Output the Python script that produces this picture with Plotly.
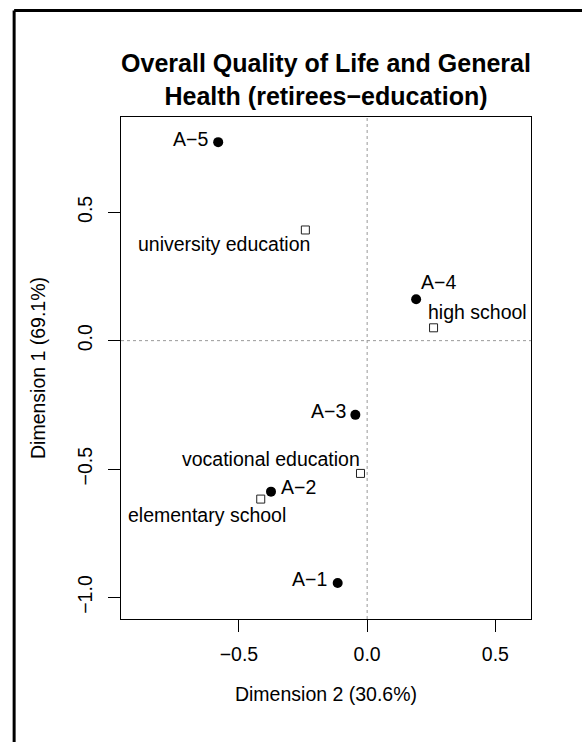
import plotly.graph_objects as go

# Row points (answer categories) and column points (education levels)
row_labels = ["A−1", "A−2", "A−3", "A−4", "A−5"]
row_dim2 = [-0.115, -0.375, -0.046, 0.191, -0.581]
row_dim1 = [-0.944, -0.588, -0.289, 0.161, 0.773]

col_labels = ["elementary school", "vocational education", "high school", "university education"]
col_dim2 = [-0.415, -0.026, 0.259, -0.241]
col_dim1 = [-0.617, -0.517, 0.050, 0.431]

x_ticks = [-0.5, 0.0, 0.5]
y_ticks = [-1.0, -0.5, 0.0, 0.5]

W, H = 582, 742
M_L, M_R, M_T, M_B = 120.5, 51, 117, 123
FONT = "Liberation Sans, Arial, Helvetica, sans-serif"
TXT = 19.5

# label placement: (xanchor, xshift, yshift) in pixels relative to the point
row_offsets = {
    "A−1": ("right", -9, 4),
    "A−2": ("left", 7.5, 4.5),
    "A−3": ("right", -7.5, 3.5),
    "A−4": ("left", 3, 17),
    "A−5": ("right", -8.5, 3),
}
col_offsets = {
    "elementary school": ("right", 27.5, -15.5),
    "vocational education": ("right", 1.5, 14.5),
    "high school": ("left", -7.5, 15.5),
    "university education": ("right", 7, -14.5),
}

fig = go.Figure()
fig.add_trace(go.Scatter(
    x=row_dim2, y=row_dim1, mode="markers",
    marker=dict(symbol="circle", size=10, color="black"),
    hoverinfo="skip", showlegend=False,
))
fig.add_trace(go.Scatter(
    x=col_dim2, y=col_dim1, mode="markers",
    marker=dict(symbol="square-open", size=8, color="#222222", line=dict(width=1)),
    hoverinfo="skip", showlegend=False,
))

for lab, x, y in zip(row_labels, row_dim2, row_dim1):
    anc, dx, dy = row_offsets[lab]
    fig.add_annotation(x=x, y=y, text=lab, showarrow=False, xanchor=anc,
                       yanchor="middle", xshift=dx, yshift=dy,
                       font=dict(family=FONT, size=TXT, color="black"))
for lab, x, y in zip(col_labels, col_dim2, col_dim1):
    anc, dx, dy = col_offsets[lab]
    fig.add_annotation(x=x, y=y, text=lab, showarrow=False, xanchor=anc,
                       yanchor="middle", xshift=dx, yshift=dy,
                       font=dict(family=FONT, size=TXT, color="black"))

# dotted reference lines through the origin
fig.add_hline(y=0, line=dict(color="#999999", width=1, dash="dot"))
fig.add_vline(x=0, line=dict(color="#999999", width=1, dash="dot"))

# outer frame (top and left edges)
pw = W - M_L - M_R
ph = H - M_T - M_B
def px_to_paper_x(px):
    return (px - M_L) / pw
def px_to_paper_y(py):
    return (H - M_B - py) / ph
fx = px_to_paper_x(13.5)
fy = px_to_paper_y(10.5)
fig.add_shape(type="line", xref="paper", yref="paper",
              x0=fx, x1=fx, y0=px_to_paper_y(H + 5), y1=fy,
              line=dict(color="black", width=3))
fig.add_shape(type="line", xref="paper", yref="paper",
              x0=fx, x1=px_to_paper_x(W + 5), y0=fy, y1=fy,
              line=dict(color="black", width=3))

axis_common = dict(
    showgrid=False, zeroline=False, showline=True, linecolor="black",
    linewidth=1, mirror=True, ticks="outside", ticklen=12, tickwidth=1,
    tickcolor="black", tickfont=dict(family=FONT, size=TXT, color="black"),
)
fig.update_xaxes(range=[-0.960, 0.639], tickvals=x_ticks,
                 ticktext=["−0.5", "0.0", "0.5"], ticklabelstandoff=6,
                 title=dict(text="Dimension 2 (30.6%)", standoff=22,
                            font=dict(family=FONT, size=TXT, color="black")),
                 **axis_common)
fig.update_yaxes(range=[-1.084, 0.871], tickvals=y_ticks,
                 ticktext=["−1.0", "−0.5", "0.0", "0.5"], tickangle=-90,
                 ticklabelstandoff=8,
                 title=dict(text="Dimension 1 (69.1%)", standoff=23,
                            font=dict(family=FONT, size=TXT, color="black")),
                 **axis_common)

fig.update_layout(
    width=W, height=H, autosize=False,
    margin=dict(l=M_L, r=M_R, t=M_T, b=M_B),
    paper_bgcolor="white", plot_bgcolor="white",
    title=dict(text="<b>Overall Quality of Life and General<br>Health (retirees−education)</b>",
               x=0.5, xref="paper", xanchor="center",
               y=1 - 72 / H, yref="container", yanchor="middle",
               font=dict(family=FONT, size=25, color="black")),
)

fig.write_html("out.html")
